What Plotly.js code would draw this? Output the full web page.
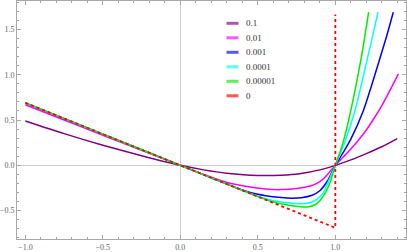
<!DOCTYPE html>
<html>
<head>
<meta charset="utf-8">
<script src="https://cdn.plot.ly/plotly-3.0.1.min.js"></script>
<style>html,body{margin:0;padding:0;background:#fff;}#chart{width:407px;height:252px;}</style>
</head>
<body>
<div id="chart"></div>
<script>
// ---- data ----
const seriesLabels = ['0.1', '0.01', '0.001', '0.0001', '0.00001', '0'];

const xH1 = [-1, -0.75, -0.5, -0.25, 0, 0.15, 0.3, 0.45, 0.55, 0.65, 0.77, 0.9, 1.0, 1.1, 1.2, 1.3, 1.4];
const yH1 = [0.49, 0.35, 0.222, 0.106, 0, -0.05, -0.088, -0.108, -0.113, -0.109, -0.092, -0.05, 0, 0.06, 0.13, 0.205, 0.295];

const xH2 = [-1, -0.75, -0.5, -0.25, 0, 0.15, 0.3, 0.45, 0.55, 0.65, 0.75, 0.85, 0.9, 0.95, 1.0, 1.05, 1.1, 1.15, 1.2, 1.25, 1.3, 1.35, 1.407];
const yH2 = [0.668, 0.5, 0.333, 0.166, 0, -0.1, -0.19, -0.24, -0.262, -0.268, -0.256, -0.222, -0.18, -0.1, 0, 0.09, 0.18, 0.28, 0.39, 0.52, 0.66, 0.82, 1.01];

const xH3 = [-1, -0.5, 0, 0.3, 0.45, 0.55, 0.65, 0.72, 0.78, 0.85, 0.9, 0.95, 1.0, 1.05, 1.1, 1.18, 1.23, 1.282, 1.33, 1.374];
const yH3 = [0.69, 0.345, 0, -0.207, -0.3, -0.335, -0.355, -0.362, -0.357, -0.33, -0.28, -0.17, 0, 0.14, 0.29, 0.6, 0.86, 1.15, 1.42, 1.69];

const xH4 = [-1, -0.5, 0, 0.3, 0.5, 0.6, 0.68, 0.74, 0.79, 0.84, 0.88, 0.92, 0.96, 1.0, 1.058, 1.127, 1.2, 1.24, 1.275];
const yH4 = [0.69, 0.345, 0, -0.207, -0.342, -0.39, -0.41, -0.42, -0.424, -0.41, -0.375, -0.31, -0.16, 0, 0.24, 0.606, 1.13, 1.42, 1.69];

const xH5 = [-1, -0.5, 0, 0.3, 0.5, 0.6, 0.7, 0.76, 0.82, 0.87, 0.9, 0.94, 0.97, 1.0, 1.048, 1.1, 1.164, 1.19, 1.215];
const yH5 = [0.69, 0.345, 0, -0.207, -0.345, -0.405, -0.44, -0.455, -0.46, -0.435, -0.39, -0.29, -0.17, 0, 0.24, 0.606, 1.158, 1.42, 1.69];

const xH0 = [-1, 1, 1];
const yH0 = [0.69, -0.69, 1.665];

const xTickVals = [-1.0, -0.5, 0.0, 0.5, 1.0];
const yTickVals = [-0.5, 0.0, 0.5, 1.0, 1.5];

// ---- styling ----
const colors = ['#800080', '#ff00ff', '#0000ff', '#00ffff', '#00ee00', '#ff0000'];
const xs = [xH1, xH2, xH3, xH4, xH5, xH0];
const ys = [yH1, yH2, yH3, yH4, yH5, yH0];

const traces = xs.map((x, i) => ({
  type: 'scatter', mode: 'lines', x: x, y: ys[i], name: seriesLabels[i],
  showlegend: false, hoverinfo: 'skip',
  line: i === 5
    ? {color: colors[i], width: 1.8, dash: '3px,3px', shape: 'linear'}
    : {color: colors[i], width: 1.5, shape: 'spline', smoothing: 0.7}
}));

const W = 407, H = 252;
const mL = 17, mR = 1, mT = 1, mB = 13;
const pw = W - mL - mR, ph = H - mT - mB;
const px2x = p => (p - mL) / pw;
const py2y = p => (H - mB - p) / ph;

const legTop = 23.3, legStep = 14.5;
const shapes = [], annotations = [];
seriesLabels.forEach((lab, i) => {
  const py = legTop + i * legStep;
  shapes.push({type: 'line', xref: 'paper', yref: 'paper',
    x0: px2x(226.5), x1: px2x(238.5), y0: py2y(py), y1: py2y(py),
    line: {color: colors[i], width: 3}, opacity: 0.65});
  annotations.push({xref: 'paper', yref: 'paper', x: px2x(243.5), y: py2y(py),
    xanchor: 'left', yanchor: 'middle', showarrow: false, text: lab,
    font: {family: 'Liberation Serif', size: 9, color: '#333'}});
});

const axisCommon = {
  showline: true, linecolor: '#a8a8a8', linewidth: 1, mirror: 'ticks',
  ticks: 'inside', ticklen: 4, tickwidth: 1, tickcolor: '#a8a8a8',
  tickmode: 'array', tickformat: '.1f',
  tickfont: {family: 'Liberation Serif', size: 8, color: '#666'},
  minor: {ticks: 'inside', ticklen: 2, tickcolor: '#a8a8a8', dtick: 0.1, tick0: 0, showgrid: false},
  showgrid: false, zeroline: true, zerolinecolor: '#d0d0d0', zerolinewidth: 1,
  fixedrange: true
};

const layout = {
  width: W, height: H,
  margin: {l: mL, r: mR, t: mT, b: mB, pad: 0},
  paper_bgcolor: '#fff', plot_bgcolor: '#fff',
  showlegend: false,
  xaxis: Object.assign({}, axisCommon, {range: [-1.054, 1.456], tickvals: xTickVals}),
  yaxis: Object.assign({}, axisCommon, {range: [-0.813, 1.814], tickvals: yTickVals}),
  shapes: shapes, annotations: annotations
};

Plotly.newPlot('chart', traces, layout, {staticPlot: true, displayModeBar: false});
</script>
</body>
</html>
